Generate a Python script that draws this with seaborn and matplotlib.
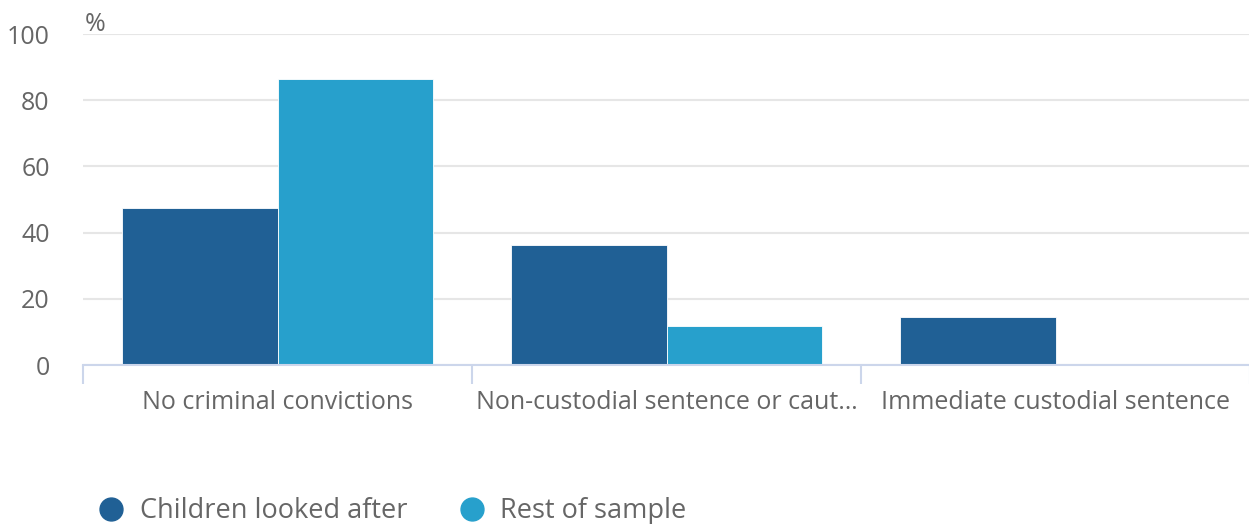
import matplotlib
matplotlib.use("Agg")
import matplotlib.pyplot as plt
from matplotlib.lines import Line2D
from matplotlib.ticker import FixedLocator
import seaborn as sns
import pandas as pd

categories = ["No criminal convictions", "Non-custodial sentence or caut\u2026",
              "Immediate custodial sentence"]
series_names = ["Children looked after", "Rest of sample"]
looked_after = [47.3, 36.4, 14.5]
rest_of_sample = [86.4, 11.8, 0.0]
y_ticks = [0, 20, 40, 60, 80, 100]

colors = ["#206095", "#27a0cc"]
text_color = "#666666"

df = pd.DataFrame({
    "category": categories * 2,
    "group": [series_names[0]] * 3 + [series_names[1]] * 3,
    "value": looked_after + rest_of_sample,
})

sns.set_theme(style="white")
plt.rcParams["font.family"] = ["Open Sans", "DejaVu Sans"]

fig = plt.figure(figsize=(12.49, 5.24), dpi=100)
ax = fig.add_axes([0.0665, 0.3034, 0.9343, 0.6316])

sns.barplot(data=df, x="category", y="value", hue="group", order=categories,
            hue_order=series_names, palette=colors, width=0.8, saturation=1,
            edgecolor="white", linewidth=0.6, legend=False, ax=ax)

ax.set_ylim(0, 100)
ax.set_xlim(-0.5, 2.5)
ax.set_yticks(y_ticks)
ax.set_yticklabels([str(t) for t in y_ticks])
ax.yaxis.grid(True, color="#e6e6e6", linewidth=1.5)
ax.set_axisbelow(True)
ax.set_xlabel("")
ax.set_ylabel("")

for side in ["top", "right", "left"]:
    ax.spines[side].set_visible(False)
ax.spines["bottom"].set_color("#ccd6eb")
ax.spines["bottom"].set_linewidth(1.5)

ax.tick_params(axis="y", length=0, pad=24, labelsize=18, labelcolor=text_color)
ax.tick_params(axis="x", which="major", length=0, pad=18, labelsize=18,
               labelcolor=text_color)
ax.xaxis.set_minor_locator(FixedLocator([-0.5, 0.5, 1.5, 2.5]))
ax.tick_params(axis="x", which="minor", bottom=True, length=14, width=1.5,
               color="#ccd6eb", direction="out")

fig.text(0.068, 0.93, "%", fontsize=18, color=text_color, ha="left", va="bottom")

handles = [Line2D([], [], linestyle="none", marker="o", markersize=16.5,
                  markerfacecolor=c, markeredgecolor=c) for c in colors]
fig.legend(handles, series_names, loc="center left", bbox_to_anchor=(0.0565, 0.024),
           ncol=2, frameon=False, fontsize=19.5, labelcolor=text_color,
           handletextpad=0.45, columnspacing=1.78, handlelength=1.2)

fig.savefig("out.png", dpi=100)
